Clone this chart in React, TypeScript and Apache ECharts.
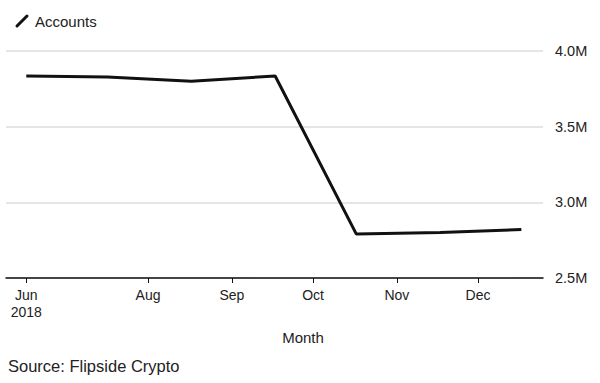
import React, { useEffect, useRef } from "react";
import * as echarts from "echarts";

const dates = ["2018-06-17", "2018-07-17", "2018-08-17", "2018-09-17", "2018-10-17", "2018-11-17", "2018-12-17"];
const accounts = [3.835e6, 3.828e6, 3.80e6, 3.835e6, 2.79e6, 2.80e6, 2.82e6];
const tickDates = ["2018-06-17", "2018-08-01", "2018-09-01", "2018-10-01", "2018-11-01", "2018-12-01"];
const tickLabels = ["Jun\n2018", "Aug", "Sep", "Oct", "Nov", "Dec"];

const ts = (d: string) => Date.parse(d + "T00:00:00Z");

export default function App() {
  const ref = useRef<HTMLDivElement>(null);
  useEffect(() => {
    if (!ref.current) return;
    const chart = echarts.init(ref.current, undefined, { renderer: "svg" });
    const tickTs = tickDates.map(ts);
    const font = "'Liberation Sans', Arial, Helvetica, sans-serif";
    chart.setOption({
      animation: false,
      textStyle: { fontFamily: font },
      grid: { left: 6, right: 57, top: 51, bottom: 105 },
      xAxis: {
        type: "value",
        min: Date.UTC(2018, 5, 9, 12),
        max: Date.UTC(2018, 11, 25),
        splitLine: { show: false },
        axisLine: { show: true, lineStyle: { color: "#111", width: 1.5 } },
        axisTick: { show: true, customValues: tickTs, length: 5, lineStyle: { color: "#111", width: 1 } },
        axisLabel: {
          customValues: tickTs,
          color: "#222",
          fontSize: 14,
          margin: 8,
          lineHeight: 17,
          fontFamily: font,
          formatter: (v: number) => {
            const i = tickTs.indexOf(v);
            return i >= 0 ? tickLabels[i] : "";
          },
        },
      },
      yAxis: {
        type: "value",
        position: "right",
        min: 2.5e6,
        max: 4.0e6,
        interval: 0.5e6,
        axisLine: { show: false },
        axisTick: { show: false },
        splitLine: { show: true, lineStyle: { color: "#dcdcdc", width: 1.5 } },
        axisLabel: {
          color: "#222",
          fontSize: 14.5,
          margin: 12,
          fontFamily: font,
          formatter: (v: number) => (v / 1e6).toFixed(1) + "M",
        },
      },
      series: [
        {
          type: "line",
          name: "Accounts",
          data: dates.map((d, i) => [ts(d), accounts[i]]),
          showSymbol: false,
          lineStyle: { color: "#111", width: 3 },
          itemStyle: { color: "#111" },
          z: 3,
        },
      ],
      graphic: [
        {
          type: "line",
          shape: { x1: 17, y1: 26, x2: 27, y2: 16 },
          style: { stroke: "#111", lineWidth: 3, lineCap: "round" },
        },
        {
          type: "text",
          x: 35,
          y: 21,
          style: { text: "Accounts", fill: "#222", fontSize: 15, fontFamily: font, verticalAlign: "middle" },
        },
        {
          type: "text",
          x: 303,
          y: 337,
          style: { text: "Month", fill: "#222", fontSize: 15, fontFamily: font, align: "center", verticalAlign: "middle" },
        },
        {
          type: "text",
          x: 8,
          y: 366,
          style: { text: "Source: Flipside Crypto", fill: "#222", fontSize: 16.5, fontFamily: font, verticalAlign: "middle" },
        },
      ],
    });
    return () => chart.dispose();
  }, []);
  return <div ref={ref} style={{ width: 600, height: 383, position: "absolute", left: 0, top: 0 }} />;
}
